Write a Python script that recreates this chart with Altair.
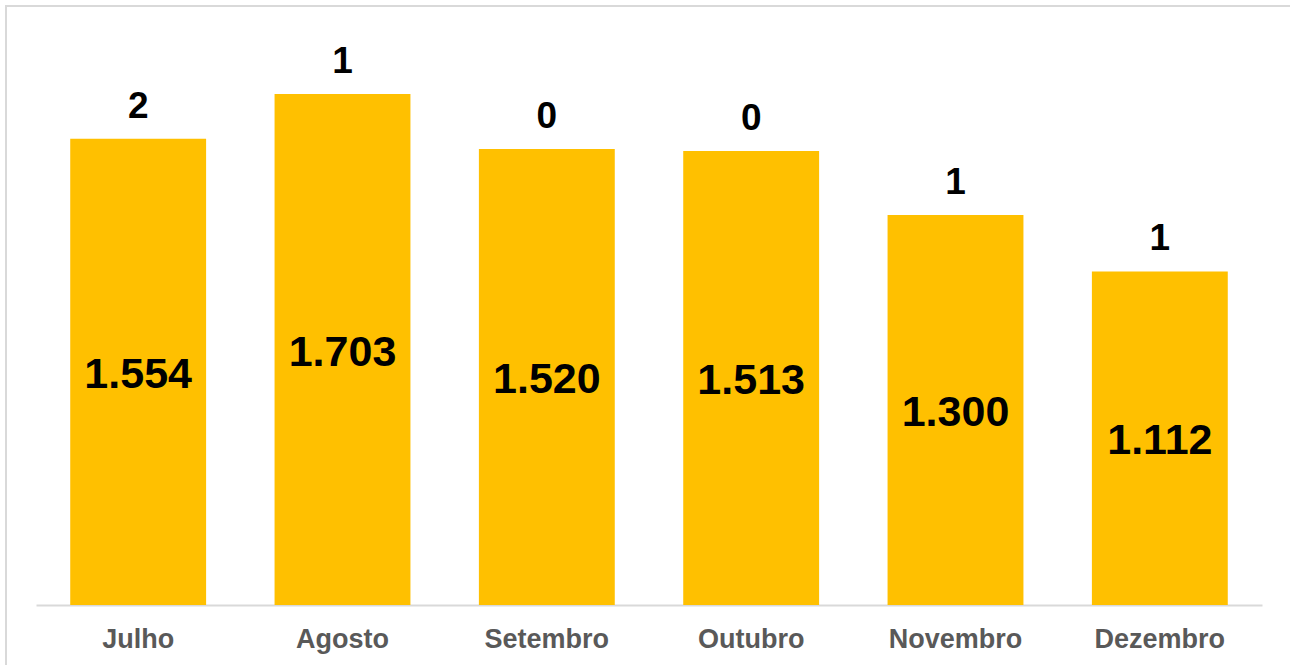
import altair as alt
import pandas as pd

months = ["Julho", "Agosto", "Setembro", "Outubro", "Novembro", "Dezembro"]
values = [1554, 1703, 1520, 1513, 1300, 1112]
top_labels = [2, 1, 0, 0, 1, 1]

df = pd.DataFrame({
    "mes": months,
    "valor": values,
    "topo": top_labels,
    "rotulo": [f"{v:,}".replace(",", ".") for v in values],
    "meio": [v / 2 for v in values],
})

FONT = "Liberation Sans"
x = alt.X("mes:N", sort=months, title=None,
          scale=alt.Scale(paddingInner=0.335, paddingOuter=0.1675),
          axis=alt.Axis(labelAngle=0, labelFont=FONT, labelFontSize=27,
                        labelFontWeight="bold", labelColor="#595959",
                        labelPadding=21, ticks=False, domainColor="#d9d9d9",
                        domainWidth=2, labelFlush=False))
yscale = alt.Scale(domain=[0, 2000], nice=False)

border = alt.Chart(df).mark_rect(fill=None, stroke="#d9d9d9", strokeWidth=2).encode(
    x=alt.value(-30), x2=alt.value(1290), y=alt.value(1), y2=alt.value(700)
).transform_filter(alt.datum.mes == "Julho")

bars = alt.Chart(df).mark_bar(color="#FFC000").encode(
    x=x, y=alt.Y("valor:Q", scale=yscale, axis=None)
)

inner = alt.Chart(df).mark_text(font=FONT, fontSize=43, fontWeight="bold",
                                color="#000000", baseline="middle", dy=3).encode(
    x=x, y=alt.Y("meio:Q", scale=yscale, axis=None), text="rotulo:N"
)

top = alt.Chart(df).mark_text(font=FONT, fontSize=37, fontWeight="bold",
                              color="#000000", baseline="alphabetic", dy=-21).encode(
    x=x, y=alt.Y("valor:Q", scale=yscale, axis=None), text="topo:N"
)

chart = alt.layer(border, bars, inner, top).properties(
    width=1226, height=600,
    autosize=alt.AutoSizeParams(type="none"),
    padding={"left": 36, "top": 5, "right": 28, "bottom": 60},
    background="white",
).configure_view(stroke=None)

chart.save("out.html", embed_options={"renderer": "svg", "actions": False})
